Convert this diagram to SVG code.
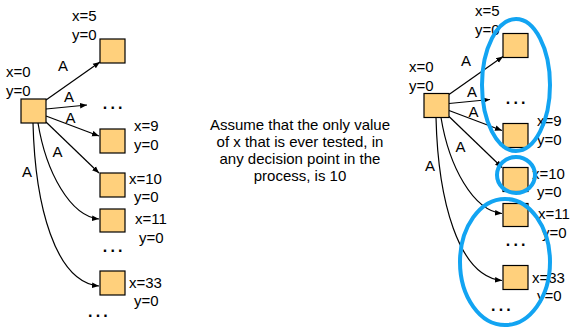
<svg xmlns="http://www.w3.org/2000/svg" width="571" height="328" viewBox="0 0 571 328">
<defs>
<style>
.box{fill:#FFD07C;stroke:#000;stroke-width:1.2}
.t{font-family:"Liberation Sans",Arial,sans-serif;font-size:15px;fill:#000}
.d{font-family:"Liberation Sans",Arial,sans-serif;font-size:16px;font-weight:bold;letter-spacing:3.2px;fill:#000}
.c{fill:none;stroke:#000;stroke-width:1.2;marker-end:url(#ah)}
.ov{fill:none;stroke:#12A4F2;stroke-width:4}
</style>
<marker id="ah" viewBox="0 0 10 10" refX="10" refY="5" markerWidth="7" markerHeight="7" markerUnits="userSpaceOnUse" orient="auto">
<path d="M0,1 L10,5 L0,9 Z" fill="#000"/>
</marker>
<g id="tree">
<g id="connectors">
<path class="c" d="M46,100 L100,62"/>
<path class="c" d="M46,109 L87,105"/>
<path class="c" d="M46,116 L99,136"/>
<path class="c" d="M46,122 L99,173"/>
<path class="c" d="M38,123 C46,172 70,216 99,219"/>
<path class="c" d="M33,123 C35,205 55,282 99,286"/>
<text class="t" x="58" y="71">A</text>
<text class="t" x="64" y="102">A</text>
<text class="t" x="65.5" y="122.5">A</text>
<text class="t" x="52.5" y="157">A</text>
<text class="t" x="22" y="176.5">A</text>
</g>
<g id="root"><rect class="box" x="21" y="99" width="25" height="24"/><text class="t" x="6" y="77">x=0</text><text class="t" x="6" y="96">y=0</text></g>
<g id="n5"><rect class="box" x="100" y="39" width="25" height="24"/><text class="t" x="72" y="21">x=5</text><text class="t" x="72" y="40">y=0</text></g>
<g id="dots1"><text class="d" x="102.8" y="109">...</text></g>
<g id="n9"><rect class="box" x="100" y="129" width="25" height="24"/><text class="t" x="134" y="131">x=9</text><text class="t" x="134" y="150">y=0</text></g>
<g id="n10"><rect class="box" x="100" y="173" width="25" height="24"/><text class="t" x="129" y="184">x=10</text><text class="t" x="134" y="202">y=0</text></g>
<g id="n11"><rect class="box" x="100" y="209" width="25" height="23"/><text class="t" x="135" y="224">x=11</text><text class="t" x="139" y="243">y=0</text></g>
<g id="dots2"><text class="d" x="102.8" y="251.5">...</text></g>
<g id="n33"><rect class="box" x="100" y="271" width="25" height="24"/><text class="t" x="129" y="288">x=33</text><text class="t" x="134" y="306">y=0</text></g>
<g id="dots3"><text class="d" x="88" y="316.5">...</text></g>
</g>
</defs>
<use href="#tree"/>
<use href="#tree" transform="translate(403,-5.5)"/>
<g id="note">
<text class="t" text-anchor="middle" x="300" y="130">Assume that the only value</text>
<text class="t" text-anchor="middle" x="300" y="147">of x that is ever tested, in</text>
<text class="t" text-anchor="middle" x="300" y="164">any decision point in the</text>
<text class="t" text-anchor="middle" x="300" y="181">process, is 10</text>
</g>
<g id="ovals">
<ellipse class="ov" cx="516" cy="85" rx="34" ry="66"/>
<ellipse class="ov" cx="516" cy="175" rx="19" ry="18"/>
<ellipse class="ov" cx="505" cy="262" rx="45" ry="63"/>
</g>
</svg>
